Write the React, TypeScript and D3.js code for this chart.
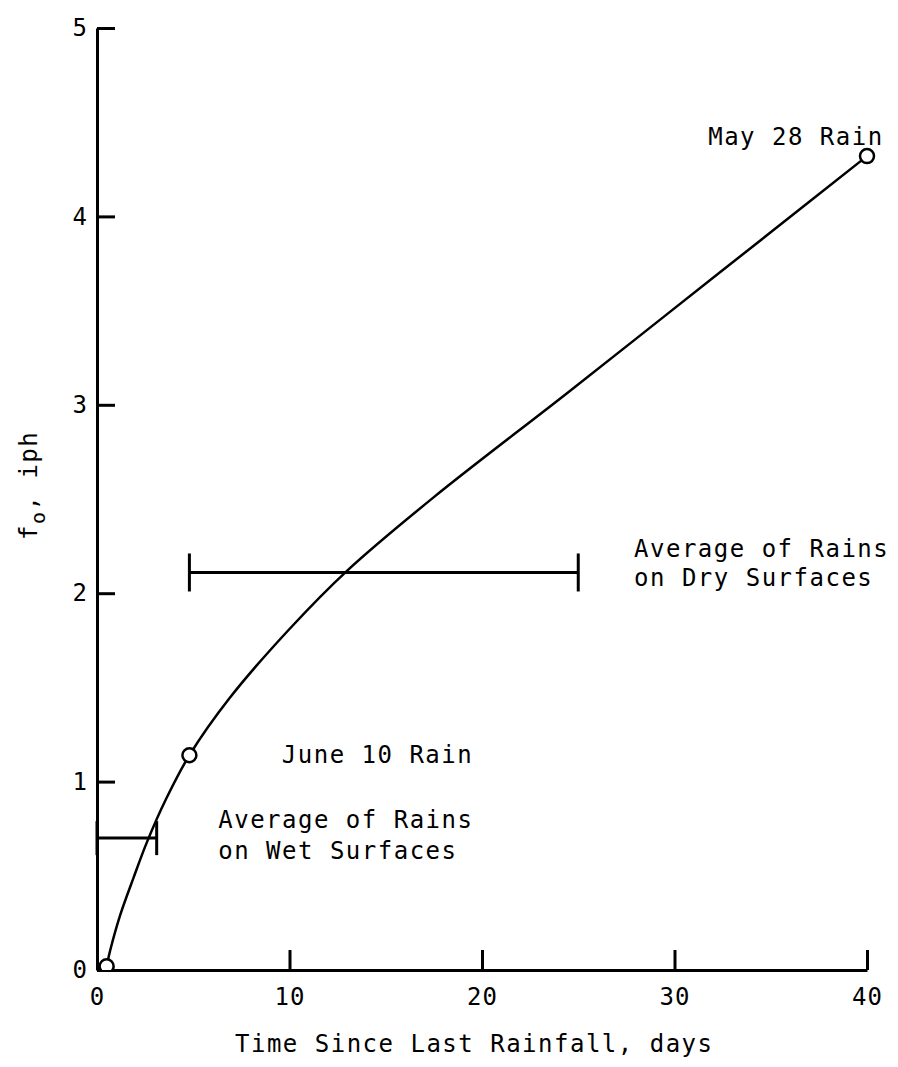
import * as d3 from "d3";
import { useEffect, useRef } from "react";

// infiltration curve f0 (iph) vs time since last rainfall (days)
const curveDays = [0.5, 0.7, 1.2, 1.9, 2.6, 3.6, 4.8, 6.9, 10, 13, 17.5, 24.4, 29.6, 34.8, 40];
const curveF0 = [0.02, 0.11, 0.29, 0.49, 0.68, 0.91, 1.14, 1.445, 1.81, 2.12, 2.51, 3.06, 3.48, 3.9, 4.32];

// observed rains (open circles)
const rainDays = [0.5, 4.8, 40];
const rainF0 = [0.02, 1.14, 4.32];

// range bars: [from day, to day, f0]
const rangeBars = [
  [0, 3.1, 0.7],
  [4.8, 25, 2.11],
];

const xTicks = [0, 10, 20, 30, 40];
const yTicks = [0, 1, 2, 3, 4, 5];

// labels placed in data coords (x = start, y = baseline)
const notes = [
  { text: "May 28 Rain", x: 31.75, y: 4.38 },
  { text: "June 10 Rain", x: 9.6, y: 1.1 },
  { text: "Average of Rains", x: 6.3, y: 0.755 },
  { text: "on Wet Surfaces", x: 6.3, y: 0.59 },
  { text: "Average of Rains", x: 27.9, y: 2.19 },
  { text: "on Dry Surfaces", x: 27.9, y: 2.04 },
];

const W = 898;
const H = 1067;
const FONT = "'DejaVu Sans Mono', monospace";

export default function App() {
  const ref = useRef<SVGSVGElement>(null);

  useEffect(() => {
    const svg = d3.select(ref.current);
    svg.selectAll("*").remove();

    const x = d3.scaleLinear().domain([0, 40]).range([97, 867]);
    const y = d3.scaleLinear().domain([0, 5]).range([970, 28]);

    svg
      .append("defs")
      .append("clipPath")
      .attr("id", "plot")
      .append("rect")
      .attr("x", 0)
      .attr("y", 0)
      .attr("width", W)
      .attr("height", y(0));

    const xAxis = svg
      .append("g")
      .attr("transform", `translate(0,${y(0)})`)
      .call(
        d3.axisBottom(x).tickValues(xTicks).tickFormat(d3.format("d")).tickSize(-20).tickSizeOuter(0).tickPadding(18)
      );
    const yAxis = svg
      .append("g")
      .attr("transform", `translate(${x(0)},0)`)
      .call(
        d3.axisLeft(y).tickValues(yTicks).tickFormat(d3.format("d")).tickSize(-18).tickSizeOuter(0).tickPadding(9)
      );

    [xAxis, yAxis].forEach((g) => {
      g.select(".domain").attr("stroke", "#000").attr("stroke-width", 3);
      g.selectAll(".tick line").attr("stroke", "#000").attr("stroke-width", 3);
      g.selectAll(".tick text")
        .attr("fill", "#000")
        .style("font-family", FONT)
        .style("font-size", "24px")
        .style("letter-spacing", "1px");
    });

    // range bars with end caps
    rangeBars.forEach(([a, b, v], i) => {
      const cap = i === 0 ? 17 : 19;
      const g = svg.append("g").attr("stroke", "#000").attr("stroke-width", 3);
      g.append("line").attr("x1", x(a)).attr("x2", x(b)).attr("y1", y(v)).attr("y2", y(v));
      [a, b].forEach((d) =>
        g.append("line").attr("x1", x(d)).attr("x2", x(d)).attr("y1", y(v) - cap).attr("y2", y(v) + cap)
      );
    });

    const line = d3
      .line<number>()
      .x((d) => x(d))
      .y((_, i) => y(curveF0[i]))
      .curve(d3.curveCatmullRom);

    svg
      .append("path")
      .datum(curveDays)
      .attr("d", line)
      .attr("fill", "none")
      .attr("stroke", "#000")
      .attr("stroke-width", 2.5);

    svg
      .append("g")
      .attr("clip-path", "url(#plot)")
      .selectAll("circle")
      .data(rainDays)
      .join("circle")
      .attr("cx", (d) => x(d))
      .attr("cy", (_, i) => y(rainF0[i]))
      .attr("r", 7)
      .attr("fill", "#fff")
      .attr("stroke", "#000")
      .attr("stroke-width", 2.5);

    svg
      .append("g")
      .selectAll("text")
      .data(notes)
      .join("text")
      .attr("x", (d) => x(d.x))
      .attr("y", (d) => y(d.y))
      .text((d) => d.text)
      .style("font-family", FONT)
      .style("font-size", "24px")
      .style("letter-spacing", "1.5px");

    svg
      .append("text")
      .attr("x", 235)
      .attr("y", 1052)
      .text("Time Since Last Rainfall, days")
      .style("font-family", FONT)
      .style("font-size", "24px")
      .style("letter-spacing", "1.5px");

    const yl = svg
      .append("text")
      .attr("transform", `translate(37,540) rotate(-90)`)
      .style("font-family", FONT)
      .style("font-size", "24px")
      .style("letter-spacing", "1.5px");
    yl.append("tspan").text("f");
    yl.append("tspan").attr("dy", 8).style("font-size", "20px").text("o");
    yl.append("tspan").attr("dy", -8).text(", iph");
  }, []);

  return (
    <svg
      ref={ref}
      width={W}
      height={H}
      style={{ position: "absolute", left: 0, top: 0, background: "#fff" }}
    />
  );
}
